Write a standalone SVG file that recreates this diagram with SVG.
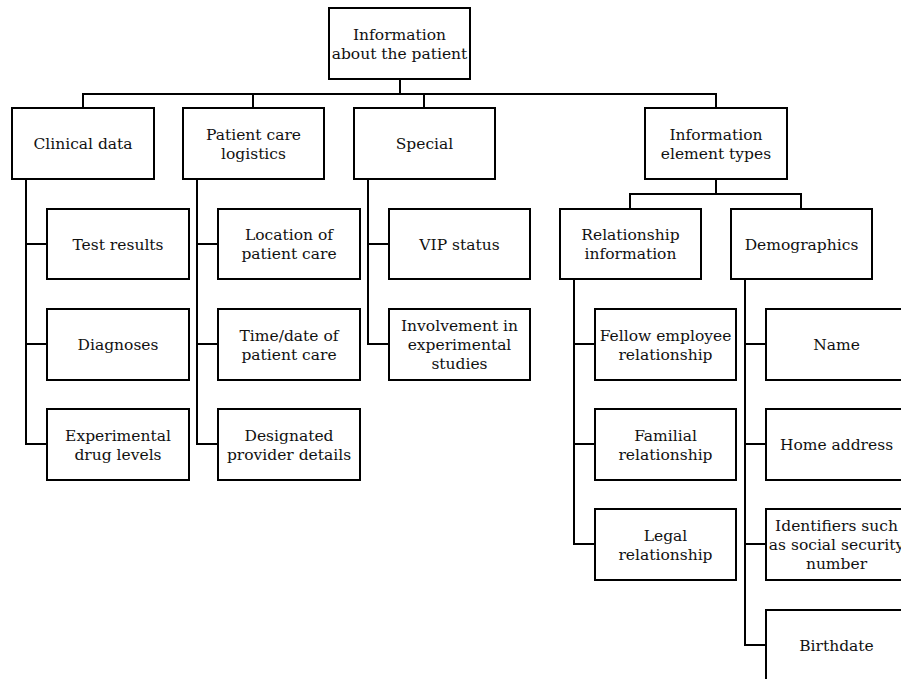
<svg xmlns="http://www.w3.org/2000/svg" width="901" height="679" viewBox="0 0 901 679">
  <style>
    .box { fill: #ffffff; stroke: #000000; stroke-width: 2; }
    .wire { fill: none; stroke: #000000; stroke-width: 2; stroke-linecap: square; }
    text { font-family: "DejaVu Serif", "Liberation Serif", serif; font-size: 15.5px; fill: #111111; text-anchor: middle; }
  </style>
  <rect width="901" height="679" fill="#ffffff"/>

  <!-- connectors -->
  <g id="connectors" class="wire">
    <path d="M400 79 V94 M83 94 H716 M83 94 V108 M253 94 V108 M424 94 V108 M716 94 V108"/>
    <path d="M716 179 V194 M630 194 H801 M630 194 V209 M801 194 V209"/>
    <path d="M26 179 V444 M26 244 H47 M26 344 H47 M26 444 H47"/>
    <path d="M197 179 V444 M197 244 H218 M197 344 H218 M197 444 H218"/>
    <path d="M368 179 V344 M368 244 H389 M368 344 H389"/>
    <path d="M574 279 V544 M574 344 H595 M574 444 H595 M574 544 H595"/>
    <path d="M745 279 V645 M745 344 H766 M745 444 H766 M745 544 H766 M745 645 H766"/>
  </g>

  <!-- root -->
  <g id="root">
    <rect class="box" x="329" y="8" width="141" height="71"/>
    <text x="399.5" y="39.5">Information</text>
    <text x="399.5" y="58.5">about the patient</text>
  </g>

  <!-- first level -->
  <g id="clinical-data">
    <rect class="box" x="12" y="108" width="142" height="71"/>
    <text x="83" y="149">Clinical data</text>
  </g>
  <g id="patient-care-logistics">
    <rect class="box" x="183" y="108" width="141" height="71"/>
    <text x="253.5" y="139.5">Patient care</text>
    <text x="253.5" y="158.5">logistics</text>
  </g>
  <g id="special">
    <rect class="box" x="354" y="108" width="141" height="71"/>
    <text x="424.5" y="149">Special</text>
  </g>
  <g id="information-element-types">
    <rect class="box" x="645" y="108" width="142" height="71"/>
    <text x="716" y="139.5">Information</text>
    <text x="716" y="158.5">element types</text>
  </g>

  <!-- clinical data items -->
  <g id="test-results">
    <rect class="box" x="47" y="209" width="142" height="70"/>
    <text x="118" y="249.5">Test results</text>
  </g>
  <g id="diagnoses">
    <rect class="box" x="47" y="309" width="142" height="71"/>
    <text x="118" y="350">Diagnoses</text>
  </g>
  <g id="experimental-drug-levels">
    <rect class="box" x="47" y="409" width="142" height="71"/>
    <text x="118" y="440.5">Experimental</text>
    <text x="118" y="459.5">drug levels</text>
  </g>

  <!-- logistics items -->
  <g id="location-of-care">
    <rect class="box" x="218" y="209" width="142" height="70"/>
    <text x="289" y="240">Location of</text>
    <text x="289" y="259">patient care</text>
  </g>
  <g id="time-date-of-care">
    <rect class="box" x="218" y="309" width="142" height="71"/>
    <text x="289" y="340.5">Time/date of</text>
    <text x="289" y="359.5">patient care</text>
  </g>
  <g id="designated-provider">
    <rect class="box" x="218" y="409" width="142" height="71"/>
    <text x="289" y="440.5">Designated</text>
    <text x="289" y="459.5">provider details</text>
  </g>

  <!-- special items -->
  <g id="vip-status">
    <rect class="box" x="389" y="209" width="141" height="70"/>
    <text x="459.5" y="249.5">VIP status</text>
  </g>
  <g id="experimental-studies">
    <rect class="box" x="389" y="309" width="141" height="71"/>
    <text x="459.5" y="331">Involvement in</text>
    <text x="459.5" y="350">experimental</text>
    <text x="459.5" y="369">studies</text>
  </g>

  <!-- second level under element types -->
  <g id="relationship-information">
    <rect class="box" x="560" y="209" width="141" height="70"/>
    <text x="630.5" y="240">Relationship</text>
    <text x="630.5" y="259">information</text>
  </g>
  <g id="demographics">
    <rect class="box" x="731" y="209" width="141" height="70"/>
    <text x="801.5" y="249.5">Demographics</text>
  </g>

  <!-- relationship items -->
  <g id="fellow-employee">
    <rect class="box" x="595" y="309" width="141" height="71"/>
    <text x="665.5" y="340.5">Fellow employee</text>
    <text x="665.5" y="359.5">relationship</text>
  </g>
  <g id="familial">
    <rect class="box" x="595" y="409" width="141" height="71"/>
    <text x="665.5" y="440.5">Familial</text>
    <text x="665.5" y="459.5">relationship</text>
  </g>
  <g id="legal">
    <rect class="box" x="595" y="509" width="141" height="71"/>
    <text x="665.5" y="540.5">Legal</text>
    <text x="665.5" y="559.5">relationship</text>
  </g>

  <!-- demographics items -->
  <g id="name">
    <rect class="box" x="766" y="309" width="141" height="71"/>
    <text x="836.5" y="350">Name</text>
  </g>
  <g id="home-address">
    <rect class="box" x="766" y="409" width="141" height="71"/>
    <text x="836.5" y="450">Home address</text>
  </g>
  <g id="identifiers">
    <rect class="box" x="766" y="509" width="141" height="71"/>
    <text x="836.5" y="531">Identifiers such</text>
    <text x="836.5" y="550">as social security</text>
    <text x="836.5" y="569">number</text>
  </g>
  <g id="birthdate">
    <rect class="box" x="766" y="610" width="141" height="71"/>
    <text x="836.5" y="651">Birthdate</text>
  </g>
</svg>
